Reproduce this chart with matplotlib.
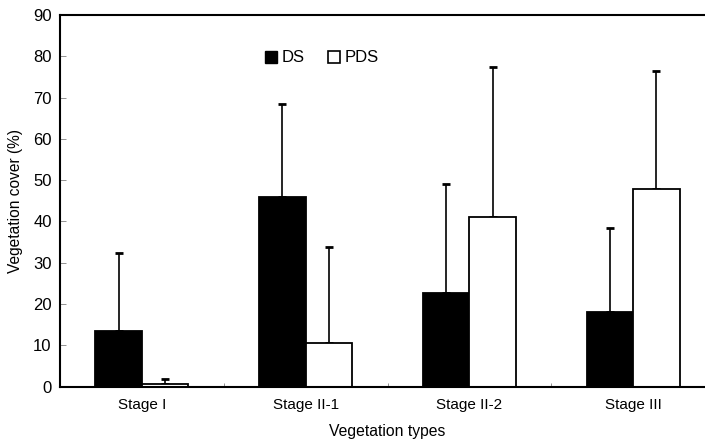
import matplotlib as mpl
import matplotlib.pyplot as plt
import numpy as np
from matplotlib.patches import Patch

mpl.rcParams["font.family"] = ["Liberation Sans", "DejaVu Sans"]

# Data
stages = ["Stage I", "Stage II-1", "Stage II-2", "Stage III"]
ds_mean = [13.4, 46.0, 22.7, 18.0]
ds_upper = [32.3, 68.5, 49.0, 38.3]
pds_mean = [0.7, 10.5, 41.0, 47.9]
pds_upper = [1.8, 33.8, 77.4, 76.5]

ds_err = np.array(ds_upper) - np.array(ds_mean)
pds_err = np.array(pds_upper) - np.array(pds_mean)

fig = plt.figure(figsize=(7.05, 4.4), dpi=100)
ax = fig.add_axes([60 / 705, 1 - 386.5 / 440, 655 / 705, 371.5 / 440])

x = np.arange(len(stages))
w = 0.284
err_kw = dict(fmt="none", ecolor="black", elinewidth=1.2, capsize=3, capthick=2, zorder=1)

# Upper-only error bars, drawn under the bars so the lower cap is hidden
zero = np.zeros(len(x))
ax.errorbar(x - w / 2, ds_mean, yerr=[zero, ds_err], **err_kw)
ax.errorbar(x + w / 2, pds_mean, yerr=[zero, pds_err], **err_kw)

ax.bar(x - w / 2, ds_mean, w, color="black", edgecolor="black", lw=1.3, zorder=2)
ax.bar(x + w / 2, pds_mean, w, color="white", edgecolor="black", lw=1.3, zorder=2)

ax.set_xlim(-0.5, 3.5)
ax.set_ylim(0, 90)
ax.set_yticks(range(0, 91, 10))
ax.set_xticks(x)
ax.set_xticklabels(stages)
ax.set_xticks(np.arange(0.5, 3.5, 1), minor=True)
ax.tick_params(axis="x", which="major", length=0, labelsize=11, pad=8)
ax.tick_params(axis="x", which="minor", direction="in", length=3, width=0.6, color="gray")
ax.tick_params(axis="y", direction="in", length=4, width=0.6, color="gray", labelsize=12, pad=6)

for side in ["left", "bottom", "top"]:
    ax.spines[side].set_linewidth(1.5)
ax.spines["right"].set_visible(False)

ax.set_xlabel("Vegetation types", fontsize=11.3, labelpad=9)
ax.set_ylabel("Vegetation cover (%)", fontsize=11.2, labelpad=7)

handles = [Patch(facecolor="black", edgecolor="black"),
           Patch(facecolor="white", edgecolor="black", lw=1.2)]
ax.legend(handles, ["DS", "PDS"], loc="upper left", bbox_to_anchor=(0.29, 0.945),
          ncol=2, frameon=False, fontsize=12, handlelength=0.75, handleheight=0.75,
          handletextpad=0.25, columnspacing=1.4)

fig.savefig("out.png", dpi=100)
